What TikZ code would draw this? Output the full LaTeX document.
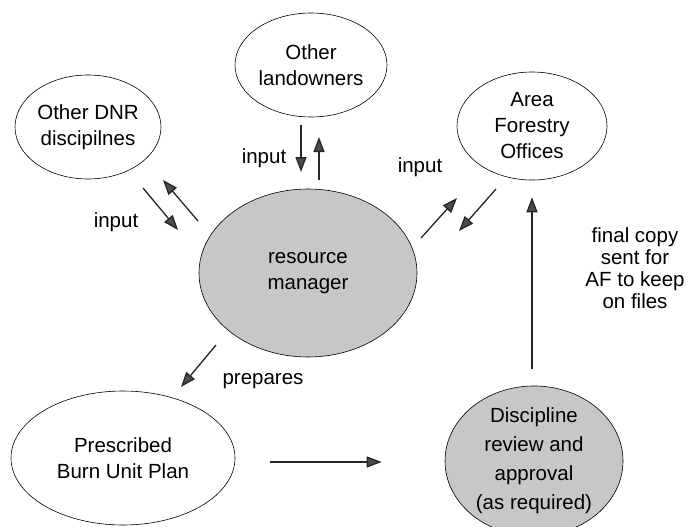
\documentclass[tikz,border=0pt]{standalone}
\usepackage{fontspec}
\setmainfont{Liberation Sans}
\usepackage{tikz}
\usetikzlibrary{positioning}
\usetikzlibrary{shapes.geometric}
\usetikzlibrary{arrows.meta}

\tikzset{
	party/.style={ellipse,draw,line width=0.6pt,inner sep=0pt,align=center,
		font=\fontsize{20.5}{26}\selectfont},
	actor/.style={party,fill=black!22},
	flow/.style={line width=1.3pt,draw=black!85,
		-{Triangle[length=15pt,width=11pt,fill=black!70]}},
	note/.style={align=center,font=\fontsize{20.5}{22}\selectfont},
}

\begin{document}
\begin{tikzpicture}[x=1pt,y=-1pt]
				\useasboundingbox (0,0) rectangle (696,527);
				%Nodes
				\node[party,minimum width=146,minimum height=104] (dnr) 	at (88,127) {Other DNR\\discipilnes};
				\node[party,minimum width=152,minimum height=104] (owners) 	at (311,65) {Other\\landowners};
				\node[party,minimum width=150,minimum height=108] (afo) 	at (532,126) {Area\\Forestry\\Offices};
				\node[actor,minimum width=218,minimum height=168] (manager) at (308,273) {resource\\manager};
				\node[party,minimum width=224,minimum height=134] (plan) 	at (123,458) {Prescribed\\Burn Unit Plan};
				\node[actor,minimum width=178,minimum height=132,font=\fontsize{20.5}{29}\selectfont] (review) at (534,461) {Discipline\\review and\\approval\\(as required)};

				\coordinate      (a0) 	at 	(143,188);
				\coordinate      (a1) 	at 	(178,230);
				\coordinate      (a2) 	at 	(198,221);
				\coordinate      (a3) 	at 	(163,180);
				\coordinate      (a4) 	at 	(301,125);
				\coordinate      (a5) 	at 	(301,172);
				\coordinate      (a6) 	at 	(319,180);
				\coordinate      (a7) 	at 	(319,137);
				\coordinate      (a8) 	at 	(421,238);
				\coordinate      (a9) 	at 	(457,198);
				\coordinate      (a10) 	at 	(496,189);
				\coordinate      (a11) 	at 	(459,231);
				\coordinate      (a12) 	at 	(216,345);
				\coordinate      (a13) 	at 	(181,387);

				%Labels
				\node[note] (in1) at (116,222) {input};
				\node[note] (in2) at (264,158) {input};
				\node[note] (in3) at (420,167) {input};
				\node[note] (prep) at (263,381) {prepares};
				\node[note] (final) at (635,268) {final copy\\sent for\\AF to keep\\on files};

				%Lines
				\draw[flow] (a0) -- (a1);
				\draw[flow] (a2) -- (a3);
				\draw[flow] (a4) -- (a5);
				\draw[flow] (a6) -- (a7);
				\draw[flow] (a8) -- (a9);
				\draw[flow] (a10) -- (a11);
				\draw[flow] (a12) -- (a13);
				\draw[flow,shorten <=35pt,shorten >=63pt] (plan.east |- 0,462) -- (review.west |- 0,462);
				\draw[flow,shorten <=17pt,shorten >=17pt] (review.north -| 532,0) -- (afo.south -| 532,0);

\end{tikzpicture}
\end{document}
